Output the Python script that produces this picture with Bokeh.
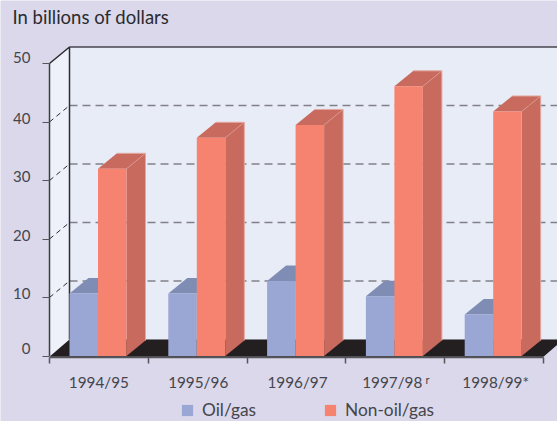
from bokeh.plotting import figure
from bokeh.models import Range1d, LinearAxis, FixedTicker, Legend, LegendItem, Label
from bokeh.embed import file_html
from bokeh.resources import INLINE

# ---- data
years = ["1994/95", "1995/96", "1996/97", "1997/98", "1998/99*"]
oil_gas = [10.7, 10.7, 12.8, 10.2, 7.1]
non_oil_gas = [32.0, 37.3, 39.5, 46.1, 41.8]
y_ticks = [0, 10, 20, 30, 40, 50]

# ---- layout
BG, WALL, SIDEWALL = "#DAD8EA", "#E8ECF7", "#EEF1FA"
INK, FLOOR = "#45454C", "#231F20"
FONT = "Lato"
W, H = 557, 421
PX_X, PX_Y = 98.8, 5.85          # pixels per group, pixels per billion
X0, Y0 = 49, 355.5               # pixel position of the chart origin in the window
DX, DY = 20 / PX_X, 16.5 / PX_Y  # depth of the wall
BDX, BDY = 19 / PX_X, 15.5 / PX_Y  # depth of a bar
OFF, BW = 20 / PX_X, 28.5 / PX_X   # first bar offset, bar width
Y_LABEL_UP = [8, 4, 4, 4.5, 4, 6.5]      # px: value labels sit above their ticks
X_LABEL_SHIFT = [0, 0.5, 1, -3, 1.5]     # px: year labels relative to the group centre

p = figure(width=W, height=H, output_backend="svg", toolbar_location=None,
           x_range=Range1d(-X0 / PX_X, (W - X0) / PX_X),
           y_range=Range1d((Y0 - H) / PX_Y, Y0 / PX_Y),
           x_axis_type=None, y_axis_type=None, min_border=0,
           background_fill_color=BG, border_fill_color=BG, outline_line_color=None)
p.grid.visible = False
XR = (W - X0) / PX_X + 0.1

# walls and floor
p.patch([0, DX, DX, 0], [0, DY, 50 + DY, 50], fill_color=SIDEWALL, line_color=None)
p.quad(left=[DX], right=[XR], bottom=[DY], top=[50 + DY], fill_color=WALL, line_color=None)
p.patch([0, DX, XR, 5 + DX, 5, 0], [-0.12, DY, DY, DY, -0.12, -0.12], fill_color=FLOOR, line_color=None)

# dashed gridlines
for t in y_ticks[1:-1]:
    p.line([DX, XR], [t + DY, t + DY], line_color="#808088", line_width=1.5, line_dash="8 5")
    p.line([0, DX], [t, t + DY], line_color="#2a2a2a", line_width=1, line_dash="5 4")

# back frame and front upright
p.line([0, DX, DX], [50, 50 + DY, DY], line_color="#2b2b30", line_width=1.5)
p.line([DX, XR], [50 + DY, 50 + DY], line_color="#45454c", line_width=1.5)
p.line([0, 0], [0, 50], line_color="#3c3c42", line_width=1.5)


def draw_bars(values, offset, front, dark, edge):
    lefts = [i + offset for i in range(len(values))]
    rights = [l + BW for l in lefts]
    p.patches([[r, r + BDX, r + BDX, r] for r in rights],
              [[0, BDY, v + BDY, v] for v in values], fill_color=dark, line_color=None)
    p.patches([[l, l + BDX, r + BDX, r] for l, r in zip(lefts, rights)],
              [[v, v + BDY, v + BDY, v] for v in values], fill_color=dark, line_color=None)
    if edge:
        p.multi_line([[l + BDX, r + BDX, r + BDX] for l, r in zip(lefts, rights)],
                     [[v + BDY, v + BDY, BDY] for v in values], line_color=edge, line_width=1)
        p.multi_line([[r, r + BDX] for r in rights], [[v, v + BDY] for v in values],
                     line_color=edge, line_width=0.7, line_alpha=0.7)
    return p.quad(left=lefts, right=rights, bottom=0, top=values, fill_color=front, line_color=None)


r_oil = draw_bars(oil_gas, OFF, "#9AA6D3", "#7F8DB5", None)
r_non = draw_bars(non_oil_gas, OFF + BW, "#F58370", "#C86A5E", "#E2A99F")

# value axis: the tick marks are minor ticks, the labels sit a little above them
y_label_pos = [t + up / PX_Y for t, up in zip(y_ticks, Y_LABEL_UP)]
yax = LinearAxis(ticker=FixedTicker(ticks=y_label_pos, minor_ticks=y_ticks), fixed_location=0,
                 major_label_overrides={pos: str(t) for pos, t in zip(y_label_pos, y_ticks)})
yax.axis_line_color = None
yax.major_tick_line_color = None
yax.major_tick_out = 7
yax.major_tick_in = 0
yax.minor_tick_line_color = "#55555a"
yax.minor_tick_out = 7
yax.minor_tick_in = 0
yax.major_label_standoff = 12
yax.major_label_text_font = FONT
yax.major_label_text_font_size = "15px"
yax.major_label_text_color = INK
p.add_layout(yax, "left")

# category axis: labels between the ticks
x_label_pos = [i + 0.5 + s / PX_X for i, s in enumerate(X_LABEL_SHIFT)]
xax = LinearAxis(ticker=FixedTicker(ticks=x_label_pos, minor_ticks=list(range(len(years) + 1))),
                 fixed_location=-0.25, bounds=(0, 5),
                 major_label_overrides={pos: y for pos, y in zip(x_label_pos, years)})
xax.axis_line_color = "#55555a"
xax.axis_line_width = 1.5
xax.major_tick_line_color = None
xax.major_tick_out = 0
xax.major_tick_in = 0
xax.minor_tick_line_color = "#55555a"
xax.minor_tick_line_width = 1.5
xax.minor_tick_out = 6
xax.minor_tick_in = 0
xax.major_label_standoff = 10
xax.major_label_text_font = FONT
xax.major_label_text_font_size = "15.3px"
xax.major_label_text_color = INK
p.add_layout(xax, "below")

# revised-figure mark after 1997/98
p.add_layout(Label(x=(425 - X0) / PX_X, y=(Y0 - 385) / PX_Y, text="r",
                   text_font=FONT, text_font_size="11px", text_color=INK))

# title
p.add_layout(Label(x=(12 - X0) / PX_X, y=(Y0 - 27) / PX_Y, text="In billions of dollars",
                   text_font=FONT, text_font_size="18.5px", text_color="#2b2b30"))

# legend
legend = Legend(items=[LegendItem(label="Oil/gas", renderers=[r_oil]),
                       LegendItem(label="Non-oil/gas", renderers=[r_non])],
                orientation="horizontal", location=(180, 1), margin=0, padding=0,
                glyph_width=14, glyph_height=14, label_standoff=8, spacing=67,
                background_fill_alpha=0, border_line_color=None,
                label_text_font=FONT, label_text_font_size="17.3px", label_text_color=INK)
p.add_layout(legend, "center")

open("out.html", "w").write(file_html(p, INLINE))
